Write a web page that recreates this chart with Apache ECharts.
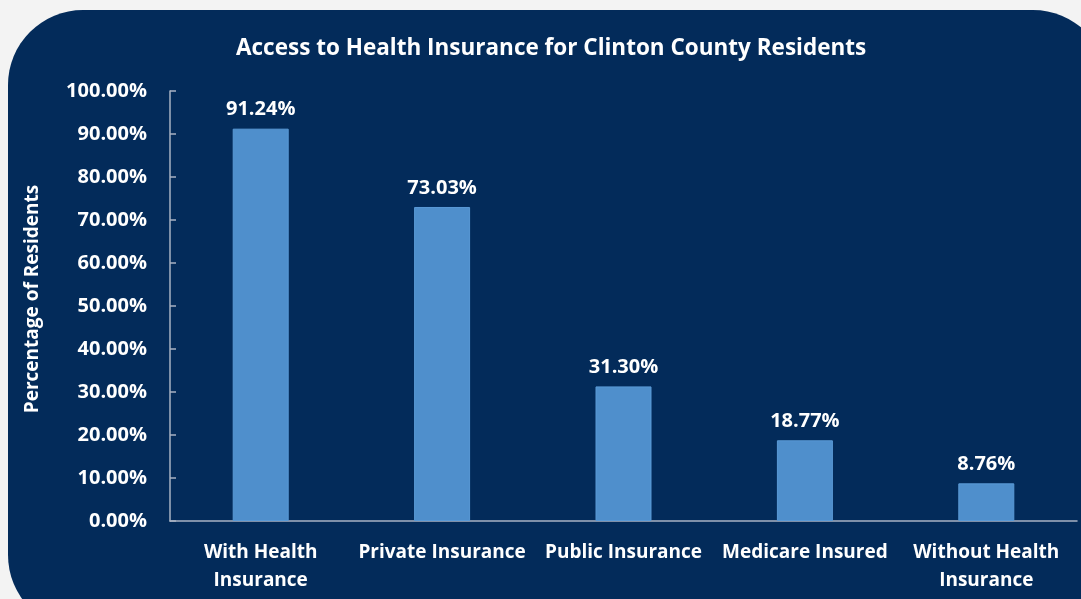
<!DOCTYPE html>
<html><head><meta charset="utf-8">
<script src="https://cdn.jsdelivr.net/npm/echarts@6/dist/echarts.min.js"></script>
<style>html,body{margin:0;padding:0;background:#f3f3f3;}#c{width:1081px;height:599px;}</style>
</head><body><div id="c"></div>
<script>
const categories = ['With Health\nInsurance', 'Private Insurance', 'Public Insurance', 'Medicare Insured', 'Without Health\nInsurance'];
const values = [91.24, 73.03, 31.30, 18.77, 8.76];
const titleText = 'Access to Health Insurance for Clinton County Residents';
const yName = 'Percentage of Residents';

const FONT = 'Open Sans';
const chart = echarts.init(document.getElementById('c'));
chart.setOption({
  backgroundColor: '#f3f3f3',
  animation: false,
  graphic: [{
    type: 'rect', z: -10, silent: true,
    shape: { x: 8, y: 10, width: 1100, height: 620, r: 75 },
    style: { fill: '#032b5a' }
  }],
  title: {
    text: titleText, left: 236, top: 37, padding: 0,
    textStyle: { color: '#ffffff', fontFamily: FONT, fontWeight: 'bold', fontSize: 22.5 }
  },
  grid: { left: 170, right: 4, top: 91, bottom: 78, containLabel: false },
  xAxis: {
    type: 'category', data: categories,
    axisLine: { lineStyle: { color: '#a9b3c3', width: 1.5 } },
    axisTick: { show: false },
    axisLabel: { color: '#ffffff', fontFamily: FONT, fontWeight: 'bold', fontSize: 19, margin: 18, lineHeight: 28, interval: 0 }
  },
  yAxis: {
    type: 'value', min: 0, max: 100, interval: 10,
    name: yName, nameLocation: 'middle', nameGap: 128, nameRotate: 90,
    nameTextStyle: { color: '#ffffff', fontFamily: FONT, fontWeight: 'bold', fontSize: 19, padding: [0, 0, 0, 14] },
    axisLine: { show: true, lineStyle: { color: '#a9b3c3', width: 1.5 } },
    axisTick: { show: true, inside: true, length: 6, lineStyle: { color: '#a9b3c3', width: 1.5 } },
    splitLine: { show: false },
    axisLabel: { color: '#ffffff', fontFamily: FONT, fontWeight: 'bold', fontSize: 20, margin: 23,
      formatter: v => v.toFixed(2) + '%' }
  },
  series: [{
    type: 'bar', data: values, barWidth: 56,
    itemStyle: { color: '#4f8fcc', borderColor: '#5a9ad6', borderWidth: 1 },
    label: { show: true, position: 'top', distance: 9, color: '#ffffff', fontFamily: FONT, fontWeight: 'bold', fontSize: 20,
      formatter: p => p.value.toFixed(2) + '%' }
  }]
});
</script></body></html>
